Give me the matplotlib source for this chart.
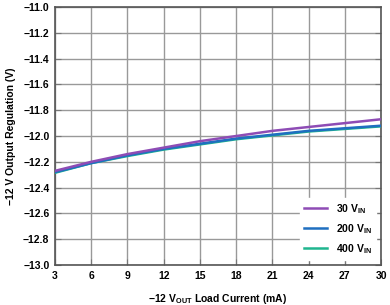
import numpy as np
import matplotlib.pyplot as plt

plt.rcParams['font.family'] = ['Liberation Sans', 'DejaVu Sans']
plt.rcParams['font.weight'] = 'bold'
plt.rcParams['axes.labelweight'] = 'bold'
plt.rcParams['mathtext.fontset'] = 'custom'
plt.rcParams['mathtext.rm'] = 'Liberation Sans:bold'
plt.rcParams['mathtext.default'] = 'rm'

current = [3, 6, 9, 12, 15, 18, 21, 24, 27, 30]
v30 = [-12.27, -12.20, -12.14, -12.09, -12.04, -12.00, -11.96, -11.93, -11.90, -11.87]
v200 = [-12.28, -12.21, -12.15, -12.10, -12.06, -12.02, -11.99, -11.96, -11.94, -11.92]
v400 = [-12.285, -12.21, -12.155, -12.105, -12.065, -12.025, -11.995, -11.965, -11.945, -11.925]

fig = plt.figure(figsize=(3.9, 3.05), dpi=100)
ax = fig.add_axes([0.141, 0.131, 0.836, 0.846])

ax.plot(current, v400, color='#1fb58f', lw=1.8, label='400 V$_{IN}$', zorder=3)
ax.plot(current, v200, color='#1f6fc0', lw=1.8, label='200 V$_{IN}$', zorder=4)
ax.plot(current, v30, color='#8e4cb5', lw=1.8, label='30 V$_{IN}$', zorder=5)

ax.set_xlim(3, 30)
ax.set_ylim(-13.0, -11.0)
ax.set_xticks(np.arange(3, 31, 3))
yt = np.arange(-13.0, -10.95, 0.2)
ax.set_yticks(yt)
ax.set_yticklabels(['\u2212%.1f' % abs(v) for v in yt])
ax.grid(color='#999999', lw=1.0)
ax.tick_params(direction='in', length=4, color='#777777', labelsize=7.5, top=False, right=True, pad=4)
for s in ax.spines.values():
    s.set_color('#555555')
    s.set_linewidth(1.2)

handles, labels = ax.get_legend_handles_labels()
leg = ax.legend(handles[::-1], labels[::-1], loc='lower right', fontsize=7.5, frameon=True,
                framealpha=1, edgecolor='white', borderpad=0.4, handlelength=2.2, labelspacing=0.6)

ax.set_xlabel('\u221212 V$_{OUT}$ Load Current (mA)', fontsize=7.5, labelpad=8)
ax.set_ylabel('\u221212 V Output Regulation (V)', fontsize=7.5, labelpad=5)

fig.savefig('out.png', dpi=100)
